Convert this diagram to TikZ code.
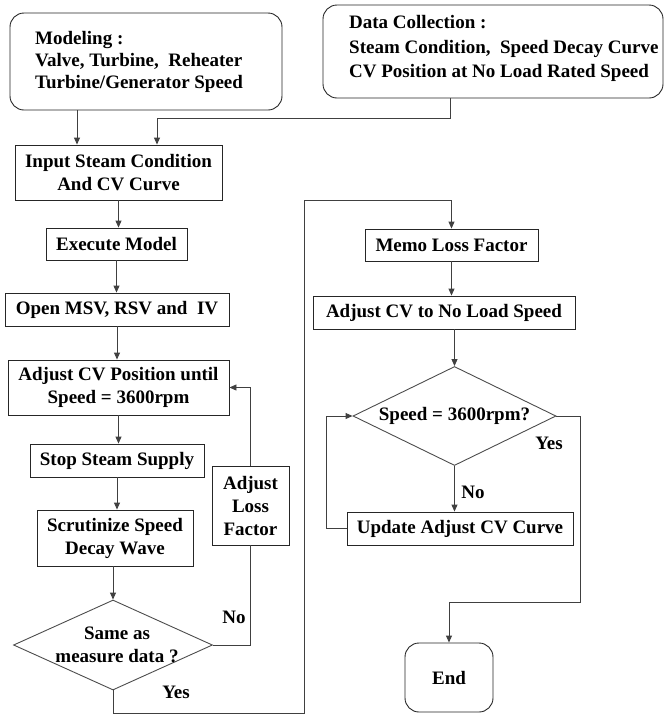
\documentclass[tikz,border=0pt]{standalone}
\usepackage{fontspec}
\setmainfont{Liberation Serif}
\usetikzlibrary{arrows.meta,shapes.geometric}
\begin{document}
\begin{tikzpicture}[x=1pt,y=-1pt,
  every node/.style={font=\fontsize{19}{23}\selectfont\bfseries, text=black},
  box/.style={draw=black!85, line width=0.9pt, rectangle, inner sep=2pt, align=center},
  rbox/.style={draw=black!85, line width=0.9pt, rectangle, rounded corners=14pt, inner sep=0pt},
  dia/.style={draw=black!70, line width=0.9pt, diamond, inner sep=0pt},
  txt/.style={align=center, inner sep=0pt},
  lbl/.style={inner sep=0pt},
  conn/.style={draw=black!75, line width=0.9pt},
  arr/.style={conn, -{Triangle[length=7pt,width=6pt]}}]
\useasboundingbox (0,0) rectangle (671,716);

% top boxes
\node[rbox, minimum width=272pt, minimum height=97pt] (model) at (146,61.5) {};
\node[anchor=west, align=left, inner sep=0pt, font=\fontsize{19}{22}\selectfont\bfseries] (modelt) at (35,62) {Modeling :\\Valve, Turbine,\ \ Reheater\\Turbine/Generator Speed};
\node[rbox, minimum width=340pt, minimum height=93pt] (data) at (493,51.5) {};
\node[anchor=west, align=left, inner sep=0pt, font=\fontsize{19}{24.5}\selectfont\bfseries] (datat) at (349,48.5) {Data Collection :\\Steam Condition,\ \ Speed Decay Curve\\CV Position at No Load Rated Speed};

% left column
\node[box, minimum width=207pt, minimum height=55pt] (input) at (118.5,172.5) {Input Steam Condition\\And CV Curve};
\node[box, minimum width=141pt, minimum height=32pt] (exec) at (116.5,244) {Execute Model};
\node[box, minimum width=224pt, minimum height=33pt] (open) at (117,309.5) {Open MSV, RSV and\ \ IV};
\node[box, minimum width=221pt, minimum height=55pt] (adjcv) at (118.5,387.5) {Adjust CV Position until\\Speed = 3600rpm};
\node[box, minimum width=174pt, minimum height=33pt] (stop) at (117,460.5) {Stop Steam Supply};
\node[box, minimum width=156pt, minimum height=56pt] (scrut) at (115,538) {Scrutinize Speed\\Decay Wave};
\node[dia, minimum width=199pt, minimum height=90pt] (d1) at (113,645) {};
\node[txt] (d1t) at (117,645) {Same as\\measure data ?};
\node[box, minimum width=77pt, minimum height=79pt] (loss) at (250.5,505.5) {Adjust\\Loss\\Factor};

% right column
\node[box, minimum width=173pt, minimum height=32pt] (memo) at (451.5,245) {Memo Loss Factor};
\node[box, minimum width=262pt, minimum height=33pt] (adjnl) at (444,312.5) {Adjust CV to No Load Speed};
\node[dia, minimum width=203pt, minimum height=99pt] (d2) at (454.5,416) {};
\node[txt] (d2t) at (454.5,416) {Speed = 3600rpm?};
\node[box, minimum width=226pt, minimum height=33pt] (update) at (460,528.5) {Update Adjust CV Curve};
\node[rbox, minimum width=88pt, minimum height=69pt] (end) at (449,677.5) {End};

% labels
\node[lbl] (no1) at (234,617) {No};
\node[lbl] (yes1) at (176,692) {Yes};
\node[lbl] (yes2) at (549,443) {Yes};
\node[lbl] (no2) at (473,492) {No};

% connectors
\coordinate (m1) at ([xshift=-41.5pt]input.north);
\coordinate (m2) at ([xshift=38.5pt]input.north);
\coordinate (dd) at ([xshift=-43pt]data.south);
\draw[arr] (m1 |- model.south) -- (m1);
\draw[arr] (dd) -- ++(0,20) -| (m2);
\draw[arr] (input.south) -- (input.south |- exec.north);
\draw[arr] (exec.south) -- (exec.south |- open.north);
\draw[arr] (open.south) -- (open.south |- adjcv.north);
\draw[arr] (adjcv.south) -- (adjcv.south |- stop.north);
\draw[arr] (stop.south) -- (stop.south |- scrut.north);
\draw[arr] (scrut.south -| d1.north) -- (d1.north);
\draw[conn] (d1.east) -| (loss.south);
\draw[arr] (loss.north) |- (adjcv.east);
\draw[arr] (d1.south) |- (304,713) -- (304,200) -| (memo.north);
\draw[arr] (memo.south) -- (memo.south |- adjnl.north);
\draw[arr] (d2.north |- adjnl.south) -- (d2.north);
\draw[arr] (d2.south) -- (d2.south |- update.north);
\draw[arr] (update.west) -- ++(-20,0) |- (d2.west);
\draw[arr] (d2.east) -| (580,602) -| (end.north);
\end{tikzpicture}
\end{document}
